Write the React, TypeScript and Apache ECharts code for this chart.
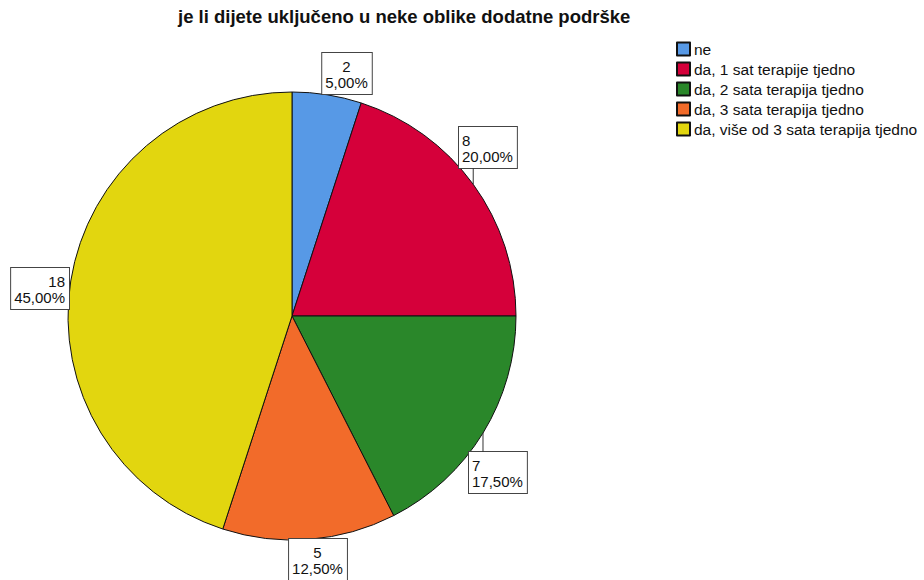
import React, { useEffect, useRef } from "react";
import * as echarts from "echarts";

const titleText = "je li dijete uključeno u neke oblike dodatne podrške";
const categories = [
  "ne",
  "da, 1 sat terapije tjedno",
  "da, 2 sata terapija tjedno",
  "da, 3 sata terapija tjedno",
  "da, više od 3 sata terapija tjedno",
];
const counts = [2, 8, 7, 5, 18];
const colors = ["#5799e6", "#d5003a", "#2a872a", "#f26b2a", "#e2d60f"];

// label box placement (layout only): [x, y, align]
const labelBoxes: [number, number, string][] = [
  [347, 53, "center"],
  [459, 127, "left"],
  [469, 452, "left"],
  [318, 539, "center"],
  [69, 268, "right"],
];

const FONT = "'Liberation Sans', Arial, sans-serif";
const CX = 292;
const CY = 316;
const R = 224;
const BOX_H = 41;

export default function App() {
  const ref = useRef<HTMLDivElement>(null);
  useEffect(() => {
    if (!ref.current) return;
    const chart = echarts.init(ref.current, null, { renderer: "svg" });
    const total = counts.reduce((a, b) => a + b, 0);

    // connector lines computed from slice mid-angles to the label box edge
    const connectors: any[] = [];
    let cum = 0;
    counts.forEach((v, i) => {
      const a = ((cum + v / 2) / total) * Math.PI * 2;
      cum += v;
      const px = CX + R * Math.sin(a);
      const py = CY - R * Math.cos(a);
      const top = labelBoxes[i][1];
      const bottom = top + BOX_H;
      let ey: number | null = null;
      if (py > bottom + 2) ey = bottom;
      else if (py < top - 2) ey = top;
      if (ey !== null) {
        connectors.push({
          type: "line",
          z: 100,
          shape: { x1: px, y1: py, x2: px, y2: ey },
          style: { stroke: "#333", lineWidth: 1 },
          silent: true,
        });
      }
    });

    chart.setOption({
      animation: false,
      backgroundColor: "#ffffff",
      title: {
        text: titleText,
        left: 178,
        top: 7,
        padding: 0,
        textStyle: { fontFamily: FONT, fontSize: 18.5, fontWeight: "bold", color: "#111" },
      },
      legend: {
        orient: "vertical",
        left: 676,
        top: 41,
        padding: 0,
        itemWidth: 13,
        itemHeight: 13,
        itemGap: 4,
        icon: "rect",
        textStyle: { fontFamily: FONT, fontSize: 15.5, color: "#111", padding: [0, 0, 0, -1] },
        data: categories,
      },
      graphic: connectors,
      series: [
        {
          type: "pie",
          center: [CX, CY],
          radius: R,
          startAngle: 90,
          clockwise: true,
          avoidLabelOverlap: false,
          itemStyle: { borderColor: "#111", borderWidth: 1 },
          emphasis: { disabled: true },
          label: {
            show: true,
            position: "outside",
            fontFamily: FONT,
            fontSize: 15,
            lineHeight: 16,
            color: "#111",
            backgroundColor: "#fff",
            borderColor: "#444",
            borderWidth: 1,
            padding: [5, 4, 4, 3],
            formatter: (p: any) =>
              `${p.value}\n${((p.value / total) * 100).toFixed(2).replace(".", ",")}%`,
          },
          labelLine: { show: false },
          labelLayout: (params: any) => {
            const b = labelBoxes[params.dataIndex];
            return { x: b[0], y: b[1], align: b[2], verticalAlign: "top" };
          },
          data: categories.map((name, i) => ({
            name,
            value: counts[i],
            itemStyle: { color: colors[i] },
          })),
        },
      ],
    });
    return () => chart.dispose();
  }, []);
  return (
    <div
      ref={ref}
      style={{ position: "absolute", left: 0, top: 0, width: 924, height: 580 }}
    />
  );
}
